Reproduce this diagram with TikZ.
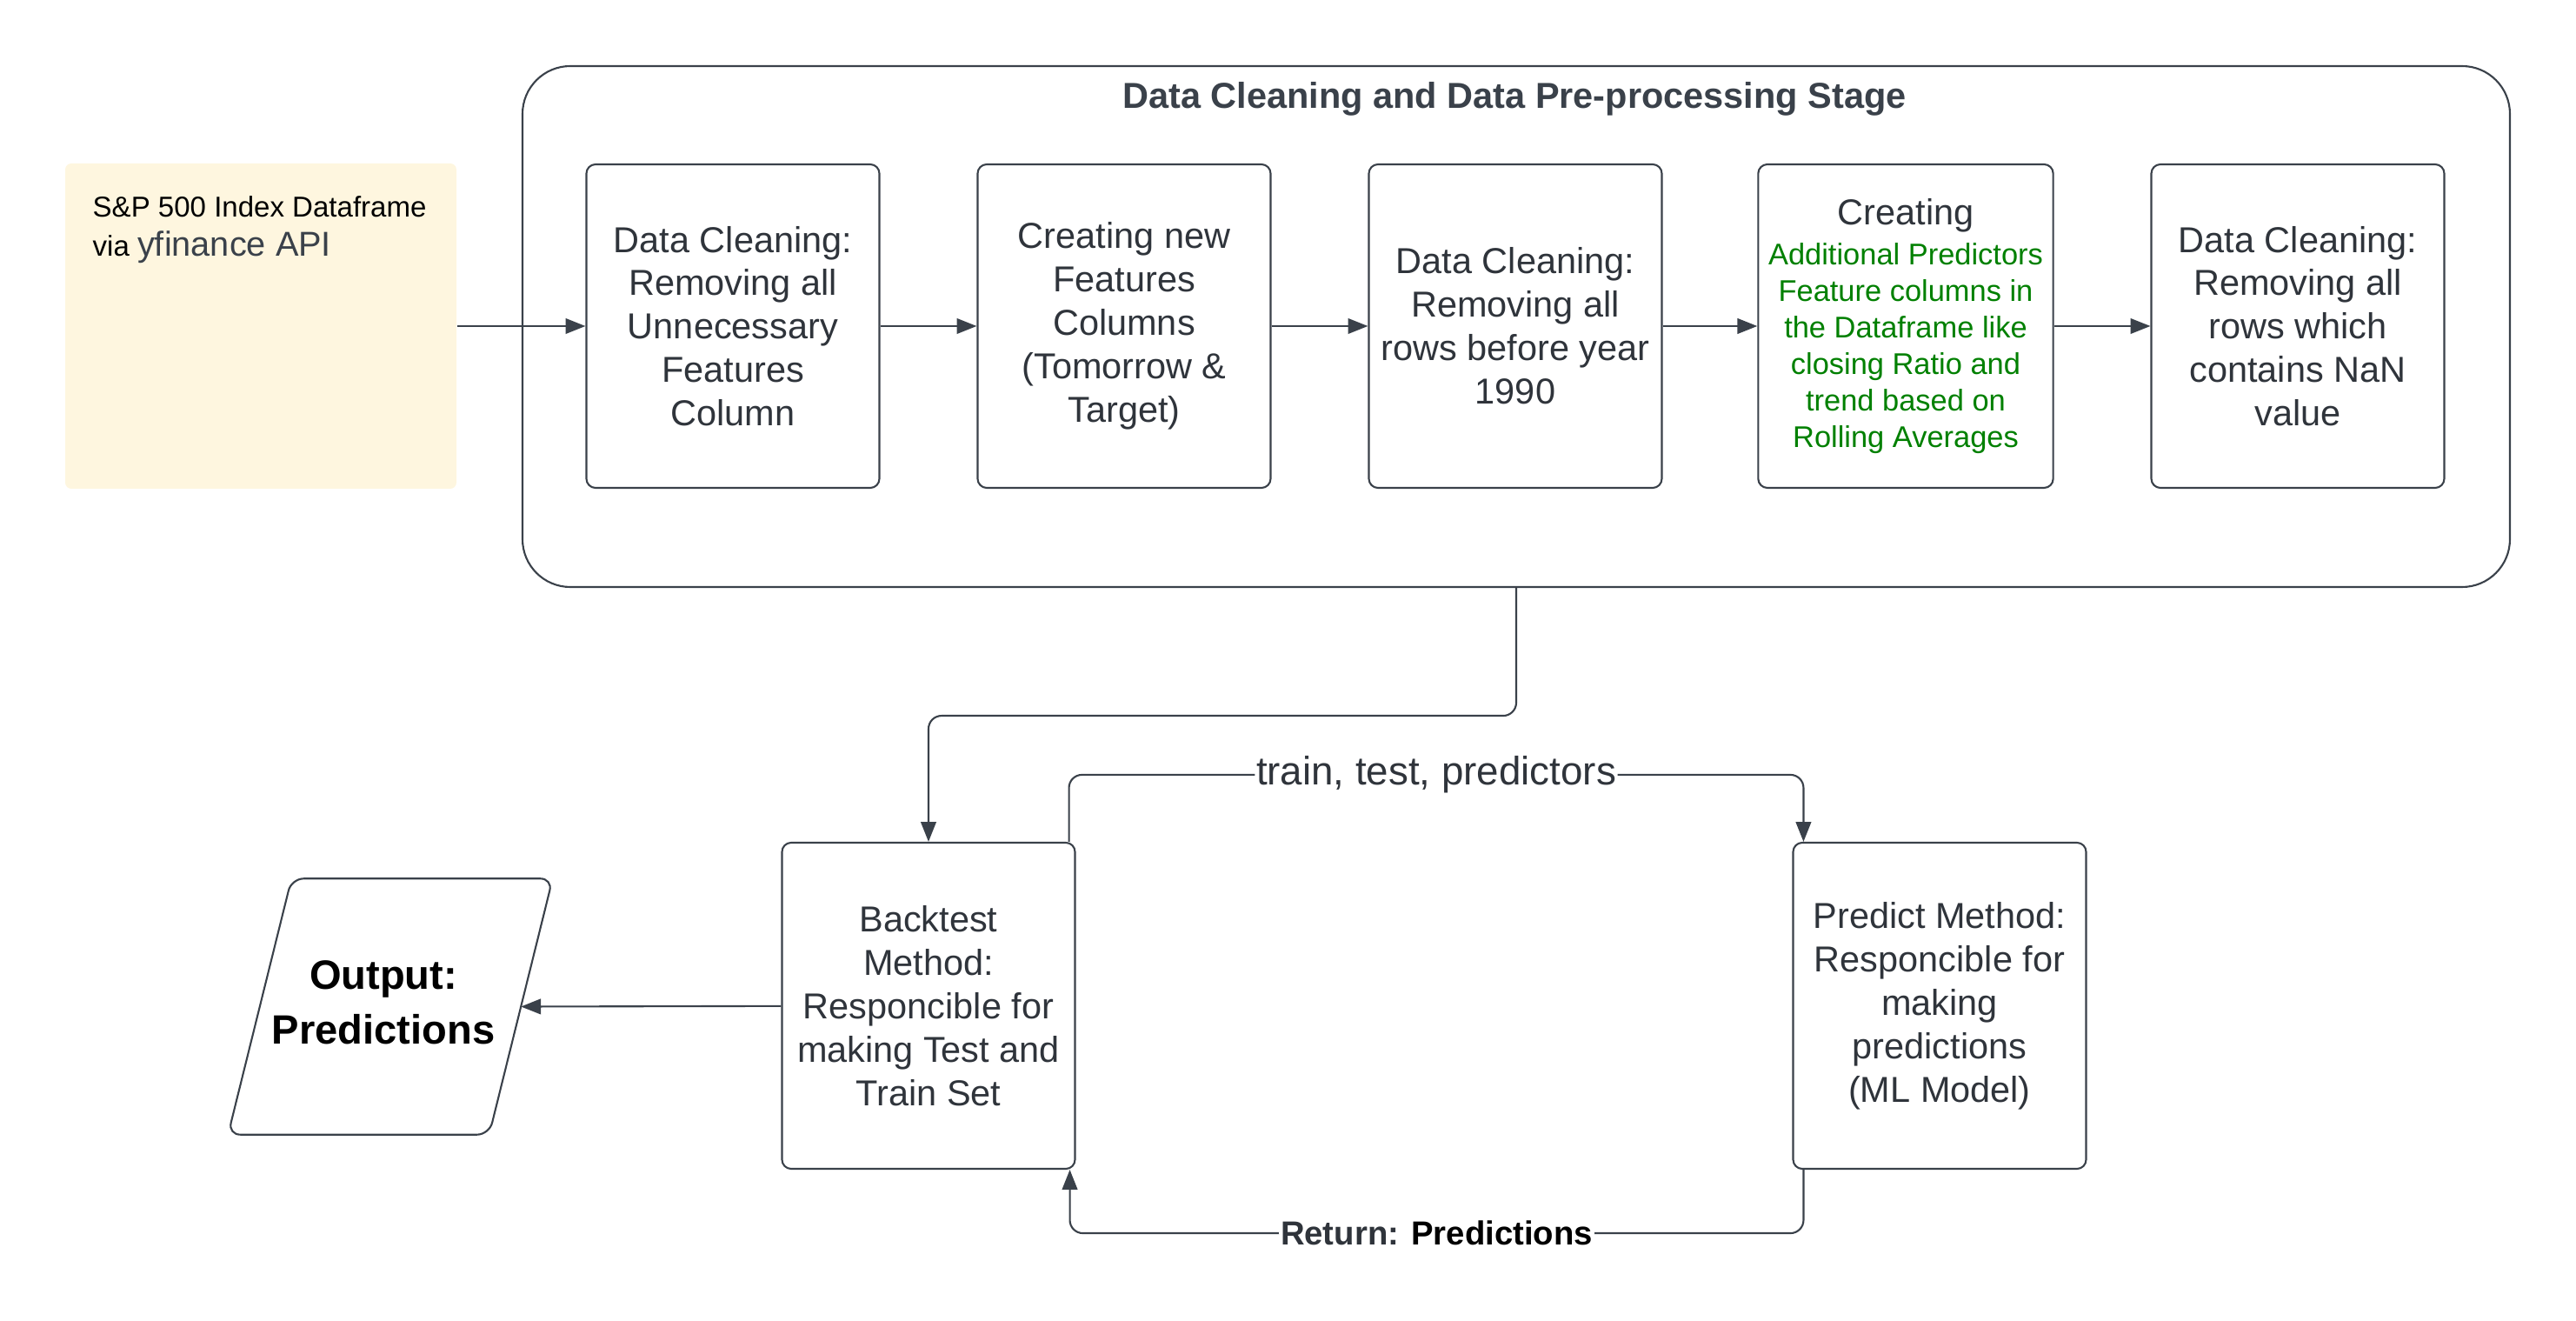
\documentclass[tikz,border=0pt]{standalone}
\usepackage{fontspec}
\setmainfont{Liberation Sans}
\usepackage{xcolor}
\usepackage{tikz}
\usetikzlibrary{arrows.meta}

\definecolor{ink}{HTML}{3A414A}
\definecolor{txt}{HTML}{2F343B}
\definecolor{grn}{HTML}{008000}
\definecolor{note}{HTML}{FEF6DF}

\begin{document}
\begin{tikzpicture}[>={Triangle[length=6.5pt,width=5pt]}]
\tikzstyle{stagebox}=[draw=ink,line width=0.6pt,rounded corners=3pt,minimum width=3.37cm,minimum height=3.72cm,align=center,text=txt,font=\fontsize{11.8}{14.2}\selectfont]
\tikzstyle{methodbox}=[stagebox,minimum width=3.37cm,minimum height=3.75cm]
\tikzstyle{stage}=[draw=ink,line width=0.6pt,rounded corners=0.55cm,minimum width=22.86cm,minimum height=5.99cm]
\tikzstyle{srcbox}=[fill=note,rounded corners=2pt,minimum width=4.5cm,minimum height=3.74cm]
\tikzstyle{outbox}=[minimum width=2.99cm,minimum height=2.93cm,align=center,font=\fontsize{13.4}{18}\selectfont\bfseries]
\tikzstyle{edge}=[draw=ink,line width=0.6pt,-]
\tikzstyle{arrow}=[edge,->]
\useasboundingbox (0,0) rectangle (29.63,-15.19);

% input data
\node[srcbox] (src) at (3.00,-3.75) {};
\node[anchor=north west,inner sep=0pt,align=left,font=\fontsize{9.4}{12.9}\selectfont] (srctext) at (1.06,-2.25)
  {S\&P 500 Index Dataframe\\via {\color{ink}\fontsize{11.3}{12.9}\selectfont yfinance API}};

% pre-processing stage
\node[stage] (stage) at (17.44,-3.755) {};
\node[text=ink,font=\fontsize{11.8}{14}\selectfont\bfseries] (title) at (17.42,-1.14) {Data Cleaning and Data Pre-processing Stage};
\node[stagebox] (dropcols) at (8.43,-3.75) {Data Cleaning:\\Removing all\\Unnecessary\\Features\\Column};
\node[stagebox] (newfeat) at (12.93,-3.75) {Creating new\\Features\\Columns\\(Tomorrow \&\\Target)};
\node[stagebox] (cut1990) at (17.43,-3.75) {Data Cleaning:\\Removing all\\rows before year\\1990};
\node[stagebox,font=\fontsize{9.8}{11.95}\selectfont] (addpred) at (21.92,-3.75)
  {{\fontsize{11.8}{14.2}\selectfont Creating}\\[1pt]\color{grn}Additional Predictors\\\color{grn}Feature columns in\\\color{grn}the Dataframe like\\\color{grn}closing Ratio and\\\color{grn}trend based on\\\color{grn}Rolling Averages};
\node[stagebox] (dropnan) at (26.43,-3.75) {Data Cleaning:\\Removing all\\rows which\\contains NaN\\value};
\foreach \a/\b in {src/dropcols,dropcols/newfeat,newfeat/cut1990,cut1990/addpred,addpred/dropnan}
  \path[arrow] (\a) -- (\b);

% modelling
\node[methodbox] (backtest) at (10.68,-11.565) {Backtest\\Method:\\Responcible for\\making Test and\\Train Set};
\node[methodbox] (predict) at (22.31,-11.565) {Predict Method:\\Responcible for\\making\\predictions\\(ML Model)};
\node[outbox] (out) at (4.49,-11.575) {};
\node[align=center,font=\fontsize{13.4}{18}\selectfont\bfseries] (outtext) at (4.41,-11.53) {Output:\\Predictions};
\draw[ink,line width=0.6pt,rounded corners=4pt] ([xshift=0.365cm]out.north west) -- ([xshift=0.365cm]out.north east)
  -- ([xshift=-0.365cm]out.south east) -- ([xshift=-0.365cm]out.south west) -- cycle;

\path[arrow,rounded corners=0.15cm] (stage.south) -- ++(0,-1.47) -| (backtest.north);
\path[arrow,rounded corners=0.15cm] ([xshift=-0.08cm]backtest.north east) -- ++(0,0.77)
  -| node[pos=0.25,fill=white,inner sep=0.5pt,text=txt,font=\fontsize{13}{15}\selectfont] {train, test, predictors} ([xshift=0.13cm]predict.north west);
\path[arrow,rounded corners=0.15cm] ([xshift=0.13cm]predict.south west) -- ++(0,-0.73)
  -| node[pos=0.25,fill=white,inner sep=0.5pt,font=\fontsize{10.9}{13}\selectfont\bfseries] {\textcolor{txt}{Return:} Predictions} ([xshift=-0.07cm]backtest.south east);
\path[arrow] (backtest) -- (out.east);
\end{tikzpicture}
\end{document}
